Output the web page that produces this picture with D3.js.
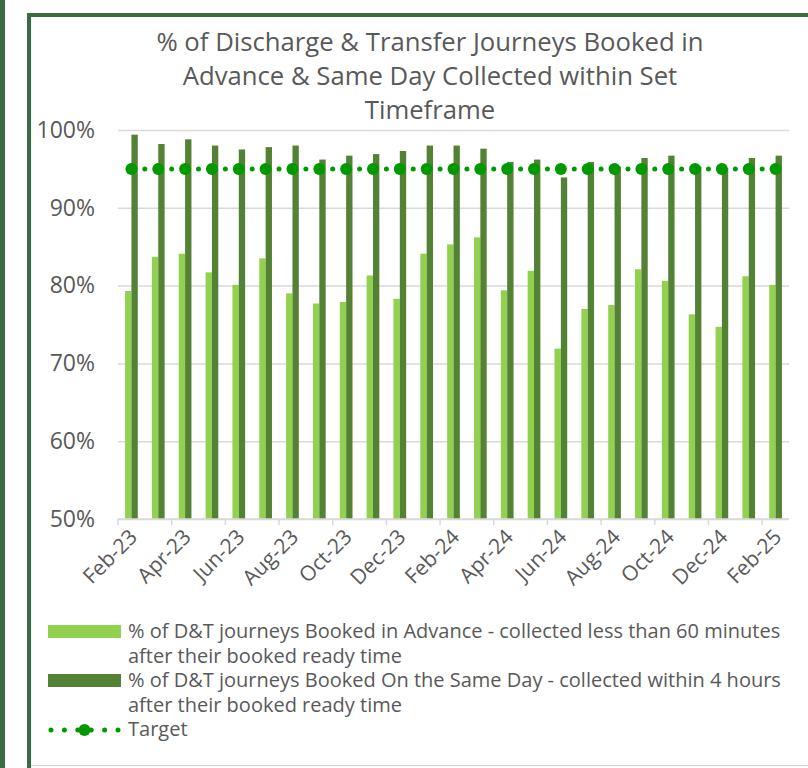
<!DOCTYPE html>
<html>
<head>
<meta charset="utf-8">
<script src="https://cdn.jsdelivr.net/npm/d3@7"></script>
<style>
  body { margin: 0; background: #fff; }
  svg text { font-family: "Open Sans", "Segoe UI", sans-serif; fill: #595959; }
</style>
</head>
<body>
<svg id="chart" width="808" height="768"></svg>
<script>
// chart values
var months = ["Feb-23","Mar-23","Apr-23","May-23","Jun-23","Jul-23","Aug-23","Sep-23","Oct-23","Nov-23","Dec-23","Jan-24",
              "Feb-24","Mar-24","Apr-24","May-24","Jun-24","Jul-24","Aug-24","Sep-24","Oct-24","Nov-24","Dec-24","Jan-25","Feb-25"];
var advance = [79.3, 83.7, 84.1, 81.7, 80.1, 83.5, 79.0, 77.7, 77.9, 81.3, 78.3, 84.1,
               85.3, 86.2, 79.4, 81.9, 71.9, 77.0, 77.5, 82.1, 80.6, 76.3, 74.7, 81.2, 80.1];
var sameDay = [99.4, 98.2, 98.8, 98.0, 97.5, 97.8, 98.0, 96.2, 96.7, 96.9, 97.3, 98.0,
               98.0, 97.6, 95.9, 96.2, 93.9, 95.9, 95.3, 96.4, 96.7, 95.3, 95.1, 96.4, 96.7];
var target = [95, 95, 95, 95, 95, 95, 95, 95, 95, 95, 95, 95,
              95, 95, 95, 95, 95, 95, 95, 95, 95, 95, 95, 95, 95];
var yTicks = [50, 60, 70, 80, 90, 100];
var xLabels = ["Feb-23","Apr-23","Jun-23","Aug-23","Oct-23","Dec-23","Feb-24","Apr-24","Jun-24","Aug-24","Oct-24","Dec-24","Feb-25"];
var titleLines = ["% of Discharge & Transfer Journeys Booked in", "Advance & Same Day Collected within Set", "Timeframe"];
var seriesNames = ["% of D&T journeys Booked in Advance - collected less than 60 minutes|after their booked ready time",
                   "% of  D&T journeys Booked On the Same Day - collected within 4 hours|after their booked ready time",
                   "Target"];

var cLight = "#92d050", cDark = "#548235", cTarget = "#009a00", cGrid = "#d9d9d9";

var svg = d3.select("#chart");

// frames
svg.append("rect").attr("x", 0).attr("y", 0).attr("width", 5).attr("height", 768).attr("fill", "#386d42");
svg.append("rect").attr("x", 29).attr("y", 15).attr("width", 820).attr("height", 790)
    .attr("fill", "#fff").attr("stroke", "#386d42").attr("stroke-width", 4);
svg.append("line").attr("x1", 31).attr("x2", 808).attr("y1", 765.5).attr("y2", 765.5)
    .attr("stroke", "#cdd6cd").attr("stroke-width", 1);

// title
svg.append("g").selectAll("text").data(titleLines).enter().append("text")
    .attr("x", 430).attr("y", function(d, i) { return 51 + i * 34; })
    .attr("text-anchor", "middle").style("font-size", "25.7px")
    .text(function(d) { return d; });

var pLeft = 118, pRight = 789, pTop = 130, pBottom = 519;

var x = d3.scaleBand().domain(months).range([pLeft, pRight]).paddingInner(0.527).paddingOuter(0.2635);
var xs = d3.scaleBand().domain(["a", "s"]).range([0, x.bandwidth()]);
var y = d3.scaleLinear().domain([50, 100]).range([pBottom, pTop]);
var step = x.step();

// gridlines + y labels
var gy = svg.append("g").attr("transform", "translate(" + pLeft + ",0)")
    .call(d3.axisLeft(y).tickValues(yTicks).tickSize(-(pRight - pLeft)).tickPadding(23)
          .tickFormat(function(d) { return d + "%"; }));
gy.select(".domain").remove();
gy.selectAll("line").attr("stroke", cGrid).attr("stroke-width", 1.5);
gy.selectAll("text").style("font-size", "23px").style("font-family", null).attr("fill", null);

// bars
var g = svg.append("g");
g.selectAll(".adv").data(months).enter().append("rect")
    .attr("x", function(d) { return x(d) + xs("a"); })
    .attr("width", xs.bandwidth())
    .attr("y", function(d, i) { return y(advance[i]); })
    .attr("height", function(d, i) { return pBottom - y(advance[i]); })
    .attr("fill", cLight);
g.selectAll(".same").data(months).enter().append("rect")
    .attr("x", function(d) { return x(d) + xs("s"); })
    .attr("width", xs.bandwidth())
    .attr("y", function(d, i) { return y(sameDay[i]); })
    .attr("height", function(d, i) { return pBottom - y(sameDay[i]); })
    .attr("fill", cDark);

// x axis
var gx = svg.append("g").attr("transform", "translate(0," + pBottom + ")")
    .call(d3.axisBottom(x).tickValues(xLabels).tickSize(0).tickPadding(0));
gx.select(".domain").attr("stroke", cGrid).attr("stroke-width", 1.5).attr("d", "M" + pLeft + ",0H" + pRight);
gx.selectAll(".tick line").remove();
gx.selectAll("text")
    .style("font-size", "21px").style("font-family", null).attr("fill", null)
    .attr("text-anchor", "end").attr("y", 0).attr("dy", "0.35em")
    .attr("transform", "translate(2,14) rotate(-45)");
gx.selectAll(".tick").each(function() {
  d3.select(this).append("line")
      .attr("x1", -step / 2).attr("x2", -step / 2).attr("y1", 0).attr("y2", 6)
      .attr("stroke", cGrid).attr("stroke-width", 1.5);
});

// target line
var line = d3.line().x(function(d) { return x(d) + x.bandwidth() / 2; })
    .y(function(d, i) { return y(target[i]); });
svg.append("path").datum(months).attr("d", line)
    .attr("fill", "none").attr("stroke", cTarget).attr("stroke-width", 5)
    .attr("stroke-linecap", "round").attr("stroke-dasharray", "0," + (step / 2));
svg.append("g").selectAll("circle").data(months).enter().append("circle")
    .attr("cx", function(d) { return x(d) + x.bandwidth() / 2; })
    .attr("cy", function(d, i) { return y(target[i]); })
    .attr("r", 6).attr("fill", cTarget);

// legend
var lg = svg.append("g").style("font-size", "20px");
lg.append("rect").attr("x", 48).attr("y", 625).attr("width", 73).attr("height", 13).attr("fill", cLight);
lg.append("rect").attr("x", 48).attr("y", 674).attr("width", 73).attr("height", 13).attr("fill", cDark);
lg.append("line").attr("x1", 51).attr("x2", 118).attr("y1", 730).attr("y2", 730)
    .attr("stroke", cTarget).attr("stroke-width", 5).attr("stroke-linecap", "round").attr("stroke-dasharray", "0,13.4");
lg.append("circle").attr("cx", 84.5).attr("cy", 730).attr("r", 6).attr("fill", cTarget);
var baseY = [638, 687, 736];
seriesNames.forEach(function(s, i) {
  s.split("|").forEach(function(t, j) {
    lg.append("text").attr("x", 128).attr("y", baseY[i] + j * 25).text(t);
  });
});
</script>
</body>
</html>
